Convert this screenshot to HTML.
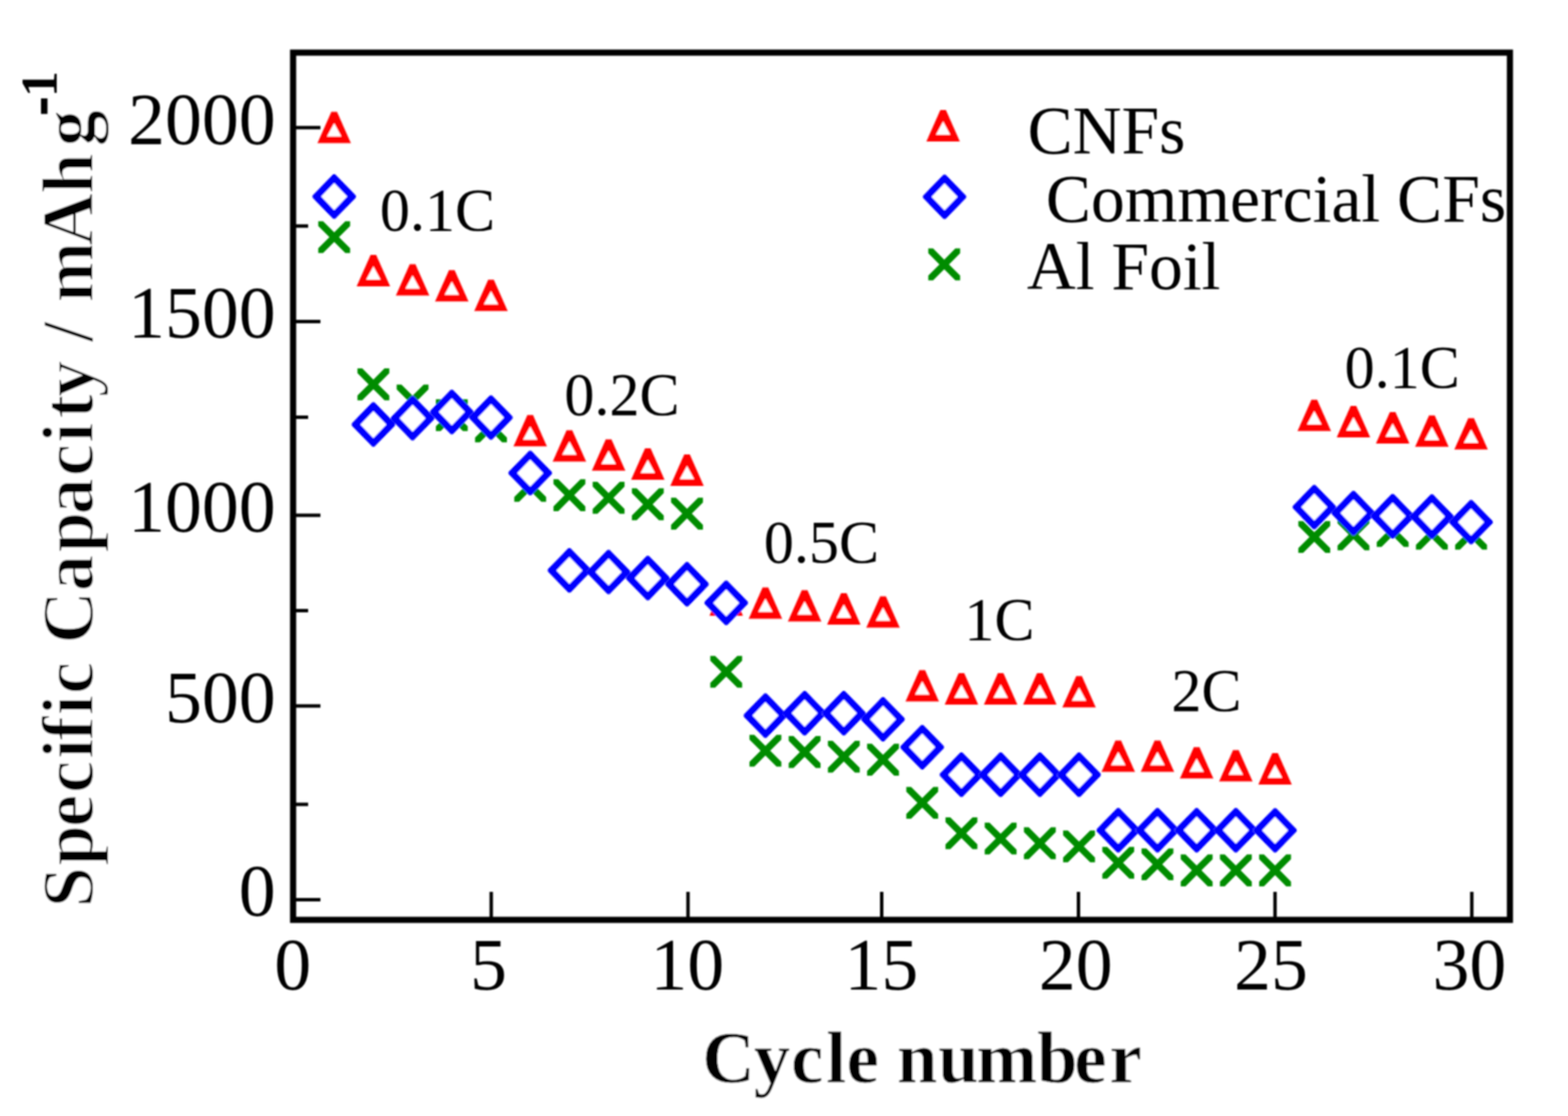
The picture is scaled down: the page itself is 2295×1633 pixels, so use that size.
<!DOCTYPE html>
<html><head><meta charset="utf-8"><title>Specific capacity vs cycle number</title>
<style>html,body{margin:0;padding:0;background:#fff;overflow:hidden}svg{display:block}text{font-family:"Liberation Serif","Times New Roman",serif;fill:#000}.b{font-weight:bold}</style></head><body>
<svg xmlns="http://www.w3.org/2000/svg" width="2295" height="1633" viewBox="0 0 2295 1633">
<filter id="soft" filterUnits="userSpaceOnUse" x="0" y="0" width="2295" height="1633"><feGaussianBlur stdDeviation="1.2"/></filter>
<rect width="2295" height="1633" fill="#fff"/>
<g filter="url(#soft)">
<path d="M429 186.7H469M429 470.6H469M429 753.9H469M429 1033.1H469M429 1316.4H469M429 330.8H451M429 610.4H451M429 893.6H451M429 1177.0H451M719 1346V1305M1007 1346V1305M1290.5 1346V1305M1578.5 1346V1305M1866.2 1346V1305M2154.2 1346V1305" stroke="#000" stroke-width="5" fill="none"/>
<rect x="429" y="77" width="1781" height="1269" fill="none" stroke="#000" stroke-width="9"/>
<text x="403.5" y="210.5" font-size="108" text-anchor="end">2000</text>
<text x="403.5" y="494.4" font-size="108" text-anchor="end">1500</text>
<text x="403.5" y="777.7" font-size="108" text-anchor="end">1000</text>
<text x="403.5" y="1056.9" font-size="108" text-anchor="end">500</text>
<text x="403.5" y="1340.2" font-size="108" text-anchor="end">0</text>
<text x="428.5" y="1448" font-size="108" text-anchor="middle">0</text>
<text x="715" y="1448" font-size="108" text-anchor="middle">5</text>
<text x="1006" y="1448" font-size="108" text-anchor="middle">10</text>
<text x="1290" y="1448" font-size="108" text-anchor="middle">15</text>
<text x="1574.5" y="1448" font-size="108" text-anchor="middle">20</text>
<text x="1860.3" y="1448" font-size="108" text-anchor="middle">25</text>
<text x="2150.8" y="1448" font-size="108" text-anchor="middle">30</text>
<defs>
<g id="mt"><path d="M-24.60 23.00L24.60 23.00L4.20 -23.00L-4.20 -23.00Z" fill="#fff"/><path d="M-24.60 23.00L24.60 23.00L4.20 -23.00L-4.20 -23.00ZM0.00 -6.30L10.50 13.20L-10.50 13.20Z" fill="#ff0000"/></g>
<g id="md"><path d="M-1.60 -32.60L1.60 -32.60L31.80 -1.60L31.80 1.60L1.60 32.60L-1.60 32.60L-31.80 1.60L-31.80 -1.60Z" fill="#fff"/><path d="M-1.60 -32.60L1.60 -32.60L31.80 -1.60L31.80 1.60L1.60 32.60L-1.60 32.60L-31.80 1.60L-31.80 -1.60ZM-19.00 0.00L0.00 19.80L19.00 0.00L0.00 -19.80Z" fill="#0000ff"/></g>
<path id="mx" d="M16.30 -23.30L23.30 -23.30L23.30 -16.30L7.00 0.00L23.30 16.30L23.30 23.30L16.30 23.30L0.00 7.00L-16.30 23.30L-23.30 23.30L-23.30 16.30L-7.00 0.00L-23.30 -16.30L-23.30 -23.30L-16.30 -23.30L0.00 -7.00Z" fill="#008c00"/>
</defs>
<use href="#mt" x="489.13" y="186.50"/>
<use href="#mt" x="546.51" y="396.10"/>
<use href="#mt" x="603.89" y="409.40"/>
<use href="#mt" x="661.27" y="418.20"/>
<use href="#mt" x="718.65" y="432.20"/>
<use href="#mt" x="776.03" y="630.30"/>
<use href="#mt" x="833.41" y="652.40"/>
<use href="#mt" x="890.79" y="665.70"/>
<use href="#mt" x="948.17" y="679.00"/>
<use href="#mt" x="1005.55" y="688.10"/>
<use href="#mt" x="1062.93" y="878.00"/>
<use href="#mt" x="1120.31" y="882.40"/>
<use href="#mt" x="1177.69" y="886.40"/>
<use href="#mt" x="1235.07" y="890.90"/>
<use href="#mt" x="1292.45" y="895.40"/>
<use href="#mt" x="1349.83" y="1003.40"/>
<use href="#mt" x="1407.21" y="1008.00"/>
<use href="#mt" x="1464.59" y="1008.00"/>
<use href="#mt" x="1521.97" y="1008.00"/>
<use href="#mt" x="1579.35" y="1012.20"/>
<use href="#mt" x="1636.73" y="1106.60"/>
<use href="#mt" x="1694.11" y="1106.60"/>
<use href="#mt" x="1751.49" y="1116.20"/>
<use href="#mt" x="1808.87" y="1120.60"/>
<use href="#mt" x="1866.25" y="1125.00"/>
<use href="#mt" x="1923.63" y="607.70"/>
<use href="#mt" x="1981.01" y="616.90"/>
<use href="#mt" x="2038.39" y="626.00"/>
<use href="#mt" x="2095.77" y="630.70"/>
<use href="#mt" x="2153.15" y="634.80"/>
<use href="#mx" x="489.13" y="347.00"/>
<use href="#mx" x="546.51" y="562.40"/>
<use href="#mx" x="603.89" y="586.00"/>
<use href="#mx" x="661.27" y="607.50"/>
<use href="#mx" x="718.65" y="624.00"/>
<use href="#mx" x="776.03" y="711.00"/>
<use href="#mx" x="833.41" y="724.60"/>
<use href="#mx" x="890.79" y="728.40"/>
<use href="#mx" x="948.17" y="737.90"/>
<use href="#mx" x="1005.55" y="751.60"/>
<use href="#mx" x="1062.93" y="983.00"/>
<use href="#mx" x="1120.31" y="1098.50"/>
<use href="#mx" x="1177.69" y="1100.40"/>
<use href="#mx" x="1235.07" y="1107.30"/>
<use href="#mx" x="1292.45" y="1111.60"/>
<use href="#mx" x="1349.83" y="1174.70"/>
<use href="#mx" x="1407.21" y="1219.20"/>
<use href="#mx" x="1464.59" y="1227.00"/>
<use href="#mx" x="1521.97" y="1233.90"/>
<use href="#mx" x="1579.35" y="1238.50"/>
<use href="#mx" x="1636.73" y="1262.50"/>
<use href="#mx" x="1694.11" y="1264.70"/>
<use href="#mx" x="1751.49" y="1273.60"/>
<use href="#mx" x="1808.87" y="1273.60"/>
<use href="#mx" x="1866.25" y="1273.60"/>
<use href="#mx" x="1923.63" y="785.70"/>
<use href="#mx" x="1981.01" y="782.00"/>
<use href="#mx" x="2038.39" y="777.00"/>
<use href="#mx" x="2095.77" y="781.00"/>
<use href="#mx" x="2153.15" y="781.00"/>
<use href="#md" x="489.13" y="287.60"/>
<use href="#md" x="546.51" y="621.20"/>
<use href="#md" x="603.89" y="612.00"/>
<use href="#md" x="661.27" y="602.80"/>
<use href="#md" x="718.65" y="611.00"/>
<use href="#md" x="776.03" y="692.20"/>
<use href="#md" x="833.41" y="834.70"/>
<use href="#md" x="890.79" y="837.00"/>
<use href="#md" x="948.17" y="845.90"/>
<use href="#md" x="1005.55" y="854.90"/>
<use href="#md" x="1062.93" y="882.20"/>
<use href="#md" x="1120.31" y="1047.10"/>
<use href="#md" x="1177.69" y="1043.60"/>
<use href="#md" x="1235.07" y="1043.60"/>
<use href="#md" x="1292.45" y="1052.50"/>
<use href="#md" x="1349.83" y="1093.30"/>
<use href="#md" x="1407.21" y="1133.70"/>
<use href="#md" x="1464.59" y="1133.70"/>
<use href="#md" x="1521.97" y="1133.70"/>
<use href="#md" x="1579.35" y="1133.70"/>
<use href="#md" x="1636.73" y="1214.80"/>
<use href="#md" x="1694.11" y="1214.80"/>
<use href="#md" x="1751.49" y="1214.80"/>
<use href="#md" x="1808.87" y="1214.80"/>
<use href="#md" x="1866.25" y="1215.00"/>
<use href="#md" x="1923.63" y="742.00"/>
<use href="#md" x="1981.01" y="750.80"/>
<use href="#md" x="2038.39" y="755.30"/>
<use href="#md" x="2095.77" y="755.80"/>
<use href="#md" x="2153.15" y="764.00"/>
<use href="#mt" x="1380.4" y="184"/>
<use href="#md" x="1382.5" y="288"/>
<use href="#mx" x="1382" y="386.9"/>
<text x="1504" y="223.5" font-size="99">CNFs</text>
<text x="1506" y="323.5" font-size="99" xml:space="preserve"> Commercial CFs</text>
<text x="1503" y="422.5" font-size="99">Al Foil</text>
<text x="556" y="337" font-size="88">0.1C</text>
<text x="826" y="607" font-size="88">0.2C</text>
<text x="1118" y="823" font-size="88">0.5C</text>
<text x="1411.5" y="936" font-size="88">1C</text>
<text x="1714.5" y="1039.5" font-size="88">2C</text>
<text x="1968" y="567" font-size="88">0.1C</text>
<text class="b" x="1027.7 1103.2 1157.7 1209.0 1239.0 1286.5 1312.7 1372.9 1429.1 1517.7 1572.2 1623.7" y="1584" font-size="107" stroke="#fff" stroke-width="0.8" xml:space="preserve">Cycle number</text>
<g transform="translate(136 1322) rotate(-90)"><text class="b" x="-6.0 55.3 111.8 161.6 211.4 238.3 275.2 306.2 356.6 380.1 456.7 513.4 568.9 625.0 674.0 709.6 741.0 793.5 821.6 849.9 879.2 962.3 1038.2 1107.8" y="0" font-size="107" stroke="#fff" stroke-width="2" xml:space="preserve">Specific Capacity / mAhg</text><text class="b" x="1153.9 1180" y="-53" font-size="76" xml:space="preserve"><tspan stroke="#000" stroke-width="3">-</tspan>1</text></g>
</g>
</svg></body></html>
